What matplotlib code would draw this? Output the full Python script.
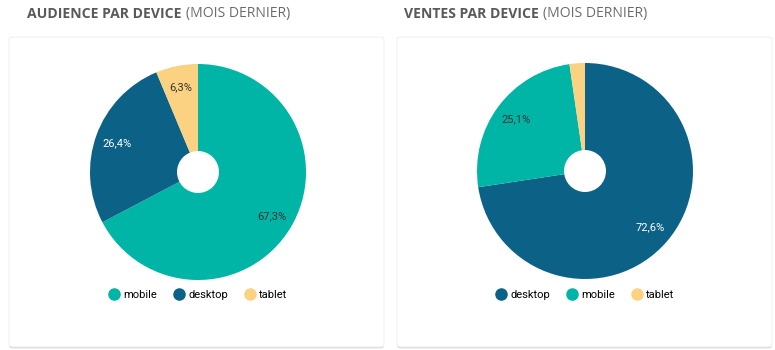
import matplotlib
matplotlib.use("Agg")
import matplotlib.pyplot as plt
from matplotlib.patches import FancyBboxPatch, Circle
from matplotlib.lines import Line2D

W, H = 775, 350

audience_labels = ["mobile", "desktop", "tablet"]
audience_values = [67.3, 26.4, 6.3]
sales_labels = ["desktop", "mobile", "tablet"]
sales_values = [72.6, 25.1, 2.3]

colors = {"mobile": "#00b5a5", "desktop": "#0b6286", "tablet": "#fbd282"}
text_colors = {"mobile": "#333333", "desktop": "white", "tablet": "#333333"}

fig = plt.figure(figsize=(W / 100, H / 100), dpi=100)
fig.patch.set_facecolor("white")


def px_box(x0, y0, x1, y1):
    # pixel box (top-down) -> figure fraction
    return [x0 / W, 1 - y1 / H, (x1 - x0) / W, (y1 - y0) / H]


def card(x0, y0, x1, y1):
    for off, a in [(2.0, 0.06), (1.0, 0.10)]:
        sh = FancyBboxPatch((x0 / W, 1 - (y1 + off) / H), (x1 - x0) / W, (y1 - y0) / H,
                            boxstyle="round,pad=0,rounding_size=0.006",
                            transform=fig.transFigure, facecolor="black", alpha=a,
                            edgecolor="none", zorder=0)
        fig.patches.append(sh)
    c = FancyBboxPatch((x0 / W, 1 - y1 / H), (x1 - x0) / W, (y1 - y0) / H,
                       boxstyle="round,pad=0,rounding_size=0.006",
                       transform=fig.transFigure, facecolor="white",
                       edgecolor="#ececec", linewidth=0.6, zorder=1)
    fig.patches.append(c)


def title(x, bold, light):
    t = fig.text(x / W, 1 - 14 / H, bold, fontsize=10.1, fontweight="bold",
                 family="Open Sans", color="#595959", va="center", ha="left")
    fig.canvas.draw()
    bb = t.get_window_extent()
    fig.text((bb.x1 + 4) / W, 1 - 14 / H, light, fontsize=10.1,
             family="Open Sans", color="#6b6b6b", va="center", ha="left")


def donut(cx, cy, r, labels, values):
    ax = fig.add_axes(px_box(cx - r, cy - r, cx + r, cy + r))
    ax.set_zorder(3)
    wedges, _, autotexts = ax.pie(values, colors=[colors[l] for l in labels],
                                  startangle=90, counterclock=False,
                                  autopct=lambda p: ("%.1f%%" % p).replace(".", ","),
                                  pctdistance=0.8, radius=1,
                                  wedgeprops=dict(linewidth=0))
    for lab, t, v in zip(labels, autotexts, values):
        t.set_color(text_colors[lab])
        t.set_fontsize(8)
        t.set_family("Roboto")
        if v < 5:
            t.set_visible(False)
    ax.add_patch(Circle((0, 0), 21 / r, facecolor="white", edgecolor="none", zorder=5))
    ax.set_xlim(-1, 1)
    ax.set_ylim(-1, 1)
    ax.set_aspect("equal")
    ax.axis("off")

    handles = [Line2D([], [], marker="o", linestyle="none", markersize=8,
                      markerfacecolor=colors[l], markeredgecolor=colors[l]) for l in labels]
    leg = fig.legend(handles, labels, loc="center", ncol=3,
                     bbox_to_anchor=(cx / W, 1 - 295 / H), frameon=False,
                     prop={"family": "Roboto", "size": 8}, handletextpad=0.3,
                     columnspacing=1.5, handlelength=1.0)
    leg.set_zorder(4)


card(9, 37, 384, 347)
card(397, 37, 772, 347)
title(27, "AUDIENCE PAR DEVICE", "(MOIS DERNIER)")
title(404, "VENTES PAR DEVICE", "(MOIS DERNIER)")
donut(198, 172, 108, audience_labels, audience_values)
donut(585, 171, 108, sales_labels, sales_values)

fig.savefig("out.png", dpi=100, facecolor="white")
